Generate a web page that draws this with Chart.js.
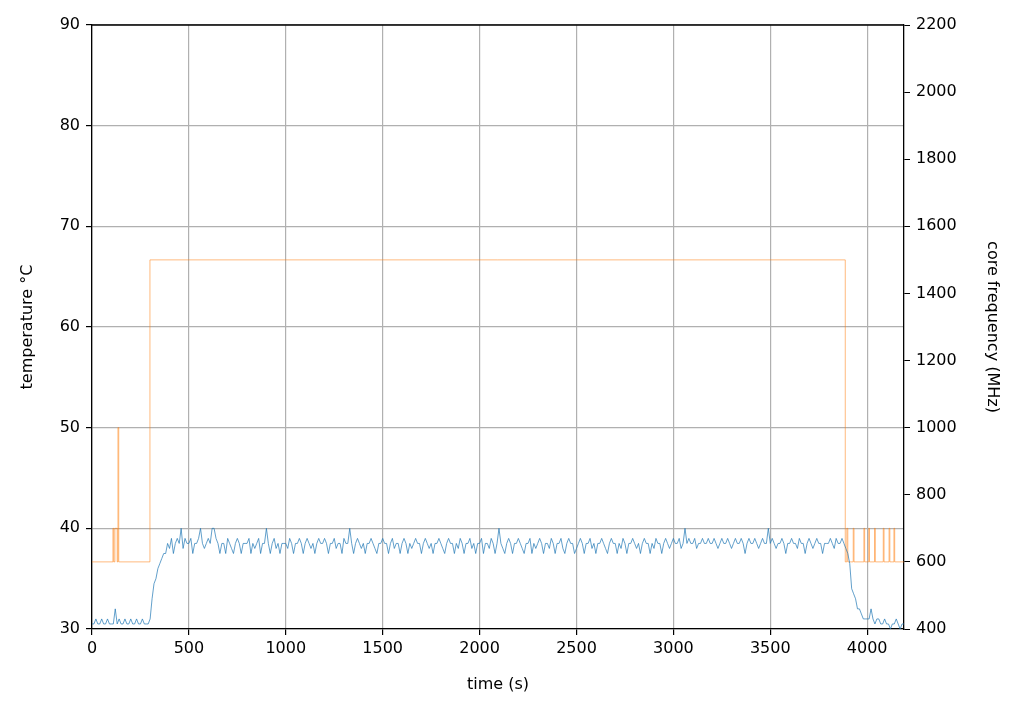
<!DOCTYPE html>
<html>
<head>
<meta charset="utf-8">
<script src="https://cdn.jsdelivr.net/npm/chart.js@4.4.1/dist/chart.umd.min.js"></script>
<style>
html, body { margin: 0; padding: 0; background: #fff; }
#wrap { width: 1024px; height: 714px; }
</style>
</head>
<body>
<div id="wrap"><canvas id="tempChart" width="1024" height="714"></canvas></div>
<script>
// temperature sampled every 10 s, starting at 0 s
var tempStep = 10;
var temperature = [
  30.5,30.5,31,30.5,30.5,31,30.5,30.5,31,30.5,30.5,30.5,32,30.5,31,30.5,30.5,31,30.5,30.5,
  31,30.5,30.5,31,30.5,30.5,31,30.5,30.5,30.5,31,33,34.5,35,36,36.5,37,37.5,37.5,38.5,
  38,39,37.5,38.5,39,38.5,40,38,39,38.5,38.5,39,37.5,38.5,38.5,39,40,38.5,38,38.5,
  39,38.5,40,40,39,38.5,37.5,38.5,38.5,37.5,39,38.5,38,37.5,38.5,39,38.5,37.5,38.5,38.5,
  38.5,39,37.5,38.5,38,38.5,39,37.5,38.5,38.5,40,38.5,37.5,38.5,39,38,38.5,37.5,38.5,38.5,
  38.5,38,39,38.5,37.5,38.5,38.5,39,38.5,37.5,38.5,39,38.5,38,38.5,37.5,38.5,39,38.5,38.5,
  39,38.5,37.5,38.5,38.5,39,38,38.5,38.5,37.5,39,38.5,38.5,40,38.5,37.5,38.5,39,38.5,38,
  38.5,37.5,38.5,38.5,39,38.5,38,37.5,38.5,38.5,39,38.5,38.5,37.5,38.5,39,38,38.5,38.5,37.5,
  38.5,39,38.5,37.5,38.5,38,38.5,39,38.5,38.5,37.5,38.5,39,38.5,38,38.5,37.5,38.5,38.5,39,
  38.5,38,37.5,38.5,39,38.5,38.5,37.5,38.5,38,39,38.5,37.5,38.5,38.5,39,38,38.5,37.5,38.5,
  38.5,39,37.5,38.5,38.5,38,39,38.5,37.5,38.5,40,38.5,38,37.5,38.5,39,38.5,37.5,38.5,38.5,
  39,38.5,38,37.5,38.5,38.5,39,37.5,38.5,38,38.5,39,38.5,37.5,38.5,38.5,38,39,38.5,37.5,
  38.5,38.5,39,38,37.5,38.5,39,38.5,38.5,37.5,38,38.5,39,38.5,37.5,38.5,38.5,39,38,38.5,
  37.5,38.5,38.5,39,38.5,38,37.5,38.5,39,38.5,38.5,37.5,38.5,38,39,38.5,37.5,38.5,38.5,39,
  38.5,38,38.5,37.5,38.5,39,38.5,38.5,37.5,38.5,38,39,38.5,38.5,37.5,38.5,39,38.5,38,38.5,
  39,38.5,38.5,39,38,38.5,40,38.5,39,38.5,38.5,39,38,38.5,38.5,39,38.5,38.5,39,38.5,
  38.5,39,38.5,38,38.5,39,38.5,38.5,39,38.5,38,38.5,39,38.5,38.5,39,38.5,37.5,38.5,39,
  38.5,38.5,39,38.5,38,38.5,39,38.5,38.5,40,38.5,39,38.5,38,38.5,38.5,39,38.5,37.5,38.5,
  38.5,39,38.5,38.5,38,39,38.5,38.5,37.5,38.5,39,38.5,38,38.5,39,38.5,38.5,37.5,38.5,38.5,
  38.5,39,38.5,38,39,38.5,38.5,39,38.5,38,37.5,36.5,34,33.5,33,32,32,31.5,31,31,
  31,31,32,31,30.5,31,31,30.5,30.5,31,30.5,30.5,30,30.5,30.5,31,30.5,30,30.5,30.5
];

// core frequency steps: time (s) and MHz
var freqTimes = [0, 108, 112, 118, 130, 134, 138, 299, 3887, 3895, 3900,
                 3928, 3932, 3983, 3987, 4008, 4012, 4038, 4042, 4083, 4087, 4113, 4117, 4138, 4142, 4190];
var freqValues = [600, 700, 600, 700, 600, 1000, 600, 1500, 600, 700, 600,
                  700, 600, 700, 600, 700, 600, 700, 600, 700, 600, 700, 600, 700, 600, 600];

var xTicks = [0, 500, 1000, 1500, 2000, 2500, 3000, 3500, 4000];
var tempTicks = [30, 40, 50, 60, 70, 80, 90];
var freqTicks = [400, 600, 800, 1000, 1200, 1400, 1600, 1800, 2000, 2200];

var tempPoints = temperature.map(function(v, i) { return {x: i * tempStep, y: v}; });
var freqPoints = freqTimes.map(function(t, i) { return {x: t, y: freqValues[i]}; });

var font = {family: 'DejaVu Sans', size: 16};
Chart.defaults.font = font;
Chart.defaults.color = '#000';

function plain(v) { return String(v); }

var ctx = document.getElementById('tempChart').getContext('2d');
new Chart(ctx, {
    type: 'line',
    data: {
        datasets: [{
            data: tempPoints,
            yAxisID: 'y',
            borderColor: '#1f77b4',
            borderWidth: 0.7,
            pointRadius: 0,
            fill: false
        }, {
            data: freqPoints,
            yAxisID: 'y2',
            stepped: 'before',
            borderColor: 'rgba(255, 127, 14, 0.6)',
            borderWidth: 0.9,
            pointRadius: 0,
            fill: false
        }]
    },
    options: {
        responsive: false,
        animation: false,
        layout: {padding: {top: 25, left: 14, right: 16, bottom: 16}},
        plugins: {legend: {display: false}, tooltip: {enabled: false}},
        scales: {
            x: {
                type: 'linear', min: 0, max: 4190,
                afterBuildTicks: function(s) { s.ticks = xTicks.map(function(v) { return {value: v}; }); },
                afterFit: function(s) { s.height = 69; },
                grid: {color: '#b0b0b0', lineWidth: 1.2, tickLength: 6, tickColor: '#000'},
                border: {color: '#000', width: 1.3},
                ticks: {font: font, padding: 4, maxRotation: 0, callback: plain},
                title: {display: true, text: 'time (s)', font: font, padding: {top: 2}}
            },
            y: {
                position: 'left', min: 30, max: 90,
                afterBuildTicks: function(s) { s.ticks = tempTicks.map(function(v) { return {value: v}; }); },
                afterFit: function(s) { s.width = 78; },
                grid: {color: '#b0b0b0', lineWidth: 1.2, tickLength: 6, tickColor: '#000'},
                border: {color: '#000', width: 1.3},
                ticks: {font: font, padding: 6, callback: plain},
                title: {display: true, text: 'temperature °C', font: font, padding: {bottom: 6}}
            },
            y2: {
                position: 'right', min: 400, max: 2200,
                afterBuildTicks: function(s) { s.ticks = freqTicks.map(function(v) { return {value: v}; }); },
                afterFit: function(s) { s.width = 104; },
                grid: {drawOnChartArea: false, tickLength: 6, tickColor: '#000'},
                border: {color: '#000', width: 1.3},
                ticks: {font: font, padding: 6, callback: plain},
                title: {display: true, text: 'core frequency (MHz)', font: font, padding: {top: 6}}
            }
        }
    },
    plugins: [{
        id: 'topBorder',
        afterDraw: function(chart) {
            var a = chart.chartArea, c = chart.ctx;
            c.save();
            c.strokeStyle = '#000';
            c.lineWidth = 1.3;
            c.beginPath();
            c.moveTo(a.left, a.top);
            c.lineTo(a.right, a.top);
            c.stroke();
            c.restore();
        }
    }]
});
</script>
</body>
</html>
